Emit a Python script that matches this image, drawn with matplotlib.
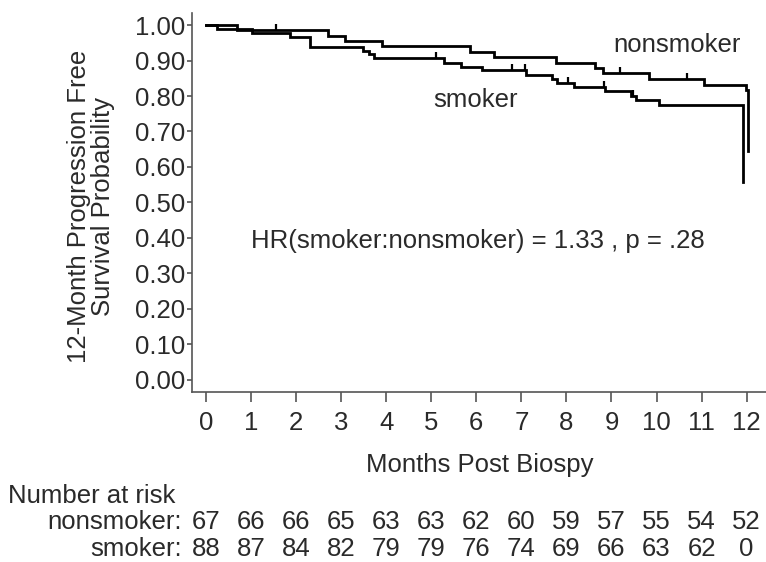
import matplotlib
matplotlib.use("Agg")
import matplotlib.pyplot as plt
from matplotlib.path import Path
from matplotlib.transforms import blended_transform_factory

plt.rcParams['font.family'] = ['Liberation Sans', 'DejaVu Sans']

# ---- data ----
ns_times = [0, 0.70, 2.72, 3.08, 3.91, 5.87, 6.39, 7.78, 8.63, 8.81, 9.84, 11.05, 11.98, 12.03]
ns_surv = [1.0, 0.985, 0.970, 0.955, 0.940, 0.924, 0.909, 0.894, 0.879, 0.864, 0.848, 0.832, 0.818, 0.645]
ns_cens_t = [1.56, 9.19, 10.68]
ns_cens_s = [0.985, 0.864, 0.848]

sm_times = [0, 0.24, 1.03, 1.87, 2.31, 3.49, 3.62, 3.72, 5.29, 5.65, 6.13, 7.10, 7.67, 7.80,
            8.17, 8.85, 9.43, 9.55, 10.06, 11.92]
sm_surv = [1.0, 0.989, 0.977, 0.966, 0.939, 0.928, 0.917, 0.906, 0.893, 0.882, 0.872, 0.860,
           0.848, 0.837, 0.826, 0.813, 0.801, 0.790, 0.774, 0.557]
sm_cens_t = [5.10, 6.79, 7.08, 8.04, 8.83, 9.47]
sm_cens_s = [0.906, 0.872, 0.872, 0.837, 0.826, 0.801]

x_ticks = list(range(0, 13))
y_ticks = [0.0, 0.1, 0.2, 0.3, 0.4, 0.5, 0.6, 0.7, 0.8, 0.9, 1.0]
risk_nonsmoker = [67, 66, 66, 65, 63, 63, 62, 60, 59, 57, 55, 54, 52]
risk_smoker = [88, 87, 84, 82, 79, 79, 76, 74, 69, 66, 63, 62, 0]

FS = 18.5
TXT = '#2a2a2a'

fig = plt.figure(figsize=(7.66, 5.62), dpi=100)
ax = fig.add_axes([0.2503, 0.302, 0.7497, 0.6749])

ax.step(ns_times, ns_surv, where='post', color='black', lw=2.0, solid_joinstyle='miter')
ax.step(sm_times, sm_surv, where='post', color='black', lw=2.0, solid_joinstyle='miter')

tick_marker = Path([[0, 0], [0, 1]], [Path.MOVETO, Path.LINETO])
ax.plot(ns_cens_t, ns_cens_s, linestyle='none', marker=tick_marker, markersize=9,
        markeredgewidth=1.6, color='black')
ax.plot(sm_cens_t, sm_cens_s, linestyle='none', marker=tick_marker, markersize=9,
        markeredgewidth=1.6, color='black')

ax.set_xlim(-0.315, 12.43)
ax.set_ylim(-0.035, 1.034)
ax.set_xticks(x_ticks)
ax.set_xticklabels([str(t) for t in x_ticks])
ax.set_yticks(y_ticks)
ax.set_yticklabels([f"{v:.2f}" for v in y_ticks])

for s in ['top', 'right']:
    ax.spines[s].set_visible(False)
for s in ['left', 'bottom']:
    ax.spines[s].set_color('#555555')
    ax.spines[s].set_linewidth(1.2)

ax.tick_params(axis='x', length=7, width=1.2, color='#555555', pad=6.5,
               labelsize=FS, labelcolor=TXT)
ax.tick_params(axis='y', length=3.6, width=1.2, color='#555555', pad=1.0,
               labelsize=FS, labelcolor=TXT)

ax.text(10.46, 0.944, 'nonsmoker', ha='center', va='center', fontsize=FS, color=TXT)
ax.text(5.99, 0.789, 'smoker', ha='center', va='center', fontsize=FS, color=TXT)
ax.text(6.03, 0.392, 'HR(smoker:nonsmoker) = 1.33 , p = .28', ha='center', va='center',
        fontsize=FS, color=TXT)

fig.text(91 / 766, 1 - 206 / 562, '12-Month Progression Free\nSurvival Probability',
         rotation=90, ha='center', va='center', fontsize=FS, color=TXT, linespacing=0.95)

fig.text(480 / 766, 1 - 465 / 562, 'Months Post Biospy', ha='center', va='center',
         fontsize=FS, color=TXT)

# number-at-risk table
tr = blended_transform_factory(ax.transData, fig.transFigure)
fig.text(8 / 766, 1 - 496 / 562, 'Number at risk', ha='left', va='center', fontsize=FS, color=TXT)
fig.text(182 / 766, 1 - 522 / 562, 'nonsmoker:', ha='right', va='center', fontsize=FS, color=TXT)
fig.text(182 / 766, 1 - 549 / 562, 'smoker:', ha='right', va='center', fontsize=FS, color=TXT)
for t, n in zip(x_ticks, risk_nonsmoker):
    ax.text(t, 1 - 522 / 562, str(n), transform=tr, ha='center', va='center',
            fontsize=FS, color=TXT, clip_on=False)
for t, n in zip(x_ticks, risk_smoker):
    ax.text(t, 1 - 549 / 562, str(n), transform=tr, ha='center', va='center',
            fontsize=FS, color=TXT, clip_on=False)

fig.savefig('out.png', dpi=100)
